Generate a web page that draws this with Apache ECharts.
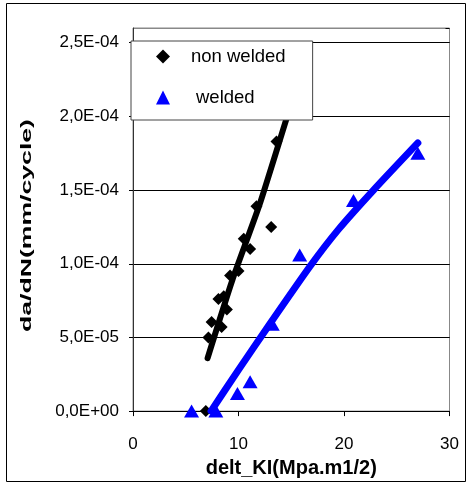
<!DOCTYPE html>
<html>
<head>
<meta charset="utf-8">
<script src="https://cdn.jsdelivr.net/npm/echarts@6/dist/echarts.min.js"></script>
<style>
  html, body { margin: 0; padding: 0; background: #fff; }
  #chartMain { width: 470px; height: 483px; }
</style>
</head>
<body>
<div id="chartMain"></div>
<script>
// points
var nonWeldedK = [6.9, 7.15, 7.45, 8.4, 8.1, 8.9, 8.6, 9.2, 10.0, 10.5, 11.1, 11.7, 13.1, 13.6];
var nonWeldedRate = [0, 5.0e-5, 6.05e-5, 5.7e-5, 7.6e-5, 6.9e-5, 7.8e-5, 9.2e-5, 9.5e-5, 1.17e-4, 1.10e-4, 1.39e-4, 1.25e-4, 1.83e-4];
var weldedK = [5.55, 7.85, 9.9, 11.1, 13.2, 15.8, 20.9, 27.0];
var weldedRate = [0, 0, 1.2e-5, 2.0e-5, 5.9e-5, 1.06e-4, 1.43e-4, 1.75e-4];

// trend lines
var nonWeldedTrendK = [7.07, 9.42, 11.99, 14.53, 15.8];
var nonWeldedTrendRate = [3.6e-5, 8.9e-5, 1.4e-4, 1.98e-4, 2.27e-4];
var weldedTrendK = [7.4, 10.0, 12.9, 16.75, 19.5, 22.8, 27.0];
var weldedTrendRate = [0, 2.8e-5, 5.85e-5, 9.8e-5, 1.235e-4, 1.5e-4, 1.82e-4];

var xTicks = { min: 0, max: 30, interval: 10 };
var yTicks = { min: 0, max: 2.6e-4, interval: 5e-5 };

var FONT = "'Liberation Sans', Arial, sans-serif";

function pairs(xs, ys) {
    return xs.map(function (x, i) { return [x, ys[i]]; });
}

// 2.5e-4 -> "2,5E-04"
function sciComma(v) {
    var parts = v.toExponential(1).split('e');
    var exp = parseInt(parts[1], 10);
    var a = Math.abs(exp);
    return parts[0].replace('.', ',') + 'E' + (exp < 0 ? '-' : '+') + (a < 10 ? '0' : '') + a;
}

var myChart = echarts.init(document.getElementById('chartMain'));

myChart.setOption({
    animation: false,
    backgroundColor: '#fff',
    textStyle: { fontFamily: FONT },
    grid: {
        left: 133, right: 20.5, top: 28, bottom: 67.3,
        show: true, borderColor: '#888', borderWidth: 1, backgroundColor: 'transparent'
    },
    graphic: [
        {
            type: 'rect', silent: true, z: -1,
            shape: { x: 6.5, y: 3.5, width: 459, height: 478 },
            style: { fill: 'none', stroke: '#000', lineWidth: 1 }
        },
        {
            type: 'text', x: 27, y: 225.5, rotation: Math.PI / 2, scaleX: 1.9,
            style: {
                text: 'da/dN(mm/cycle)', font: 'bold 14px ' + FONT, fill: '#000',
                textAlign: 'center', textVerticalAlign: 'middle'
            }
        }
    ],
    legend: {
        orient: 'vertical',
        left: 131, top: 41,
        padding: [6, 27, 13, 25],
        itemGap: 22,
        itemWidth: 14, itemHeight: 14,
        backgroundColor: '#fff',
        borderColor: '#444', borderWidth: 1,
        textStyle: { fontSize: 18.5, color: '#000', fontFamily: FONT },
        data: [
            { name: 'non welded', textStyle: { padding: [0, 0, 0, 16] } },
            { name: 'welded', textStyle: { padding: [0, 0, 0, 21] } }
        ]
    },
    xAxis: {
        type: 'value',
        min: xTicks.min, max: xTicks.max, interval: xTicks.interval,
        name: 'delt_KI(Mpa.m1/2)', nameLocation: 'middle', nameGap: 41,
        nameTextStyle: { fontSize: 20, fontWeight: 'bold', color: '#000', fontFamily: FONT },
        axisLine: { lineStyle: { color: '#000', width: 1 } },
        axisTick: { show: true, length: 5, lineStyle: { color: '#000' } },
        axisLabel: { fontSize: 17, color: '#000', margin: 25 },
        splitLine: { show: false }
    },
    yAxis: [
        {
            type: 'value',
            min: yTicks.min, max: yTicks.max, interval: yTicks.interval,
            axisLine: { show: true, lineStyle: { color: '#333', width: 1 } },
            axisTick: { show: true, length: 4, lineStyle: { color: '#000' } },
            axisLabel: { fontSize: 17, color: '#000', margin: 14, formatter: sciComma, showMaxLabel: false },
            splitLine: {
                show: true,
                lineStyle: { color: ['#000', '#000', '#000', '#000', '#000', '#000', '#888'], width: 1 }
            }
        },
        {
            type: 'value',
            min: yTicks.min, max: yTicks.max, interval: yTicks.interval,
            axisLine: { show: false },
            axisTick: { show: true, inside: true, length: 4, lineStyle: { color: '#000' } },
            axisLabel: { show: false },
            splitLine: { show: false }
        }
    ],
    series: [
        {
            name: 'non welded', type: 'scatter',
            symbol: 'diamond', symbolSize: 12,
            itemStyle: { color: '#000', opacity: 1 },
            data: pairs(nonWeldedK, nonWeldedRate)
        },
        {
            name: 'welded', type: 'scatter',
            symbol: 'triangle', symbolSize: [15, 13],
            itemStyle: { color: '#0000ff', opacity: 1 },
            data: pairs(weldedK, weldedRate)
        },
        {
            name: 'non welded trend', type: 'line',
            showSymbol: false, smooth: 0.2, silent: true,
            lineStyle: { color: '#000', width: 6, cap: 'round' },
            data: pairs(nonWeldedTrendK, nonWeldedTrendRate)
        },
        {
            name: 'welded trend', type: 'line',
            showSymbol: false, smooth: 0.2, silent: true,
            lineStyle: { color: '#0000ff', width: 7, cap: 'round' },
            data: pairs(weldedTrendK, weldedTrendRate)
        }
    ]
});
</script>
</body>
</html>
